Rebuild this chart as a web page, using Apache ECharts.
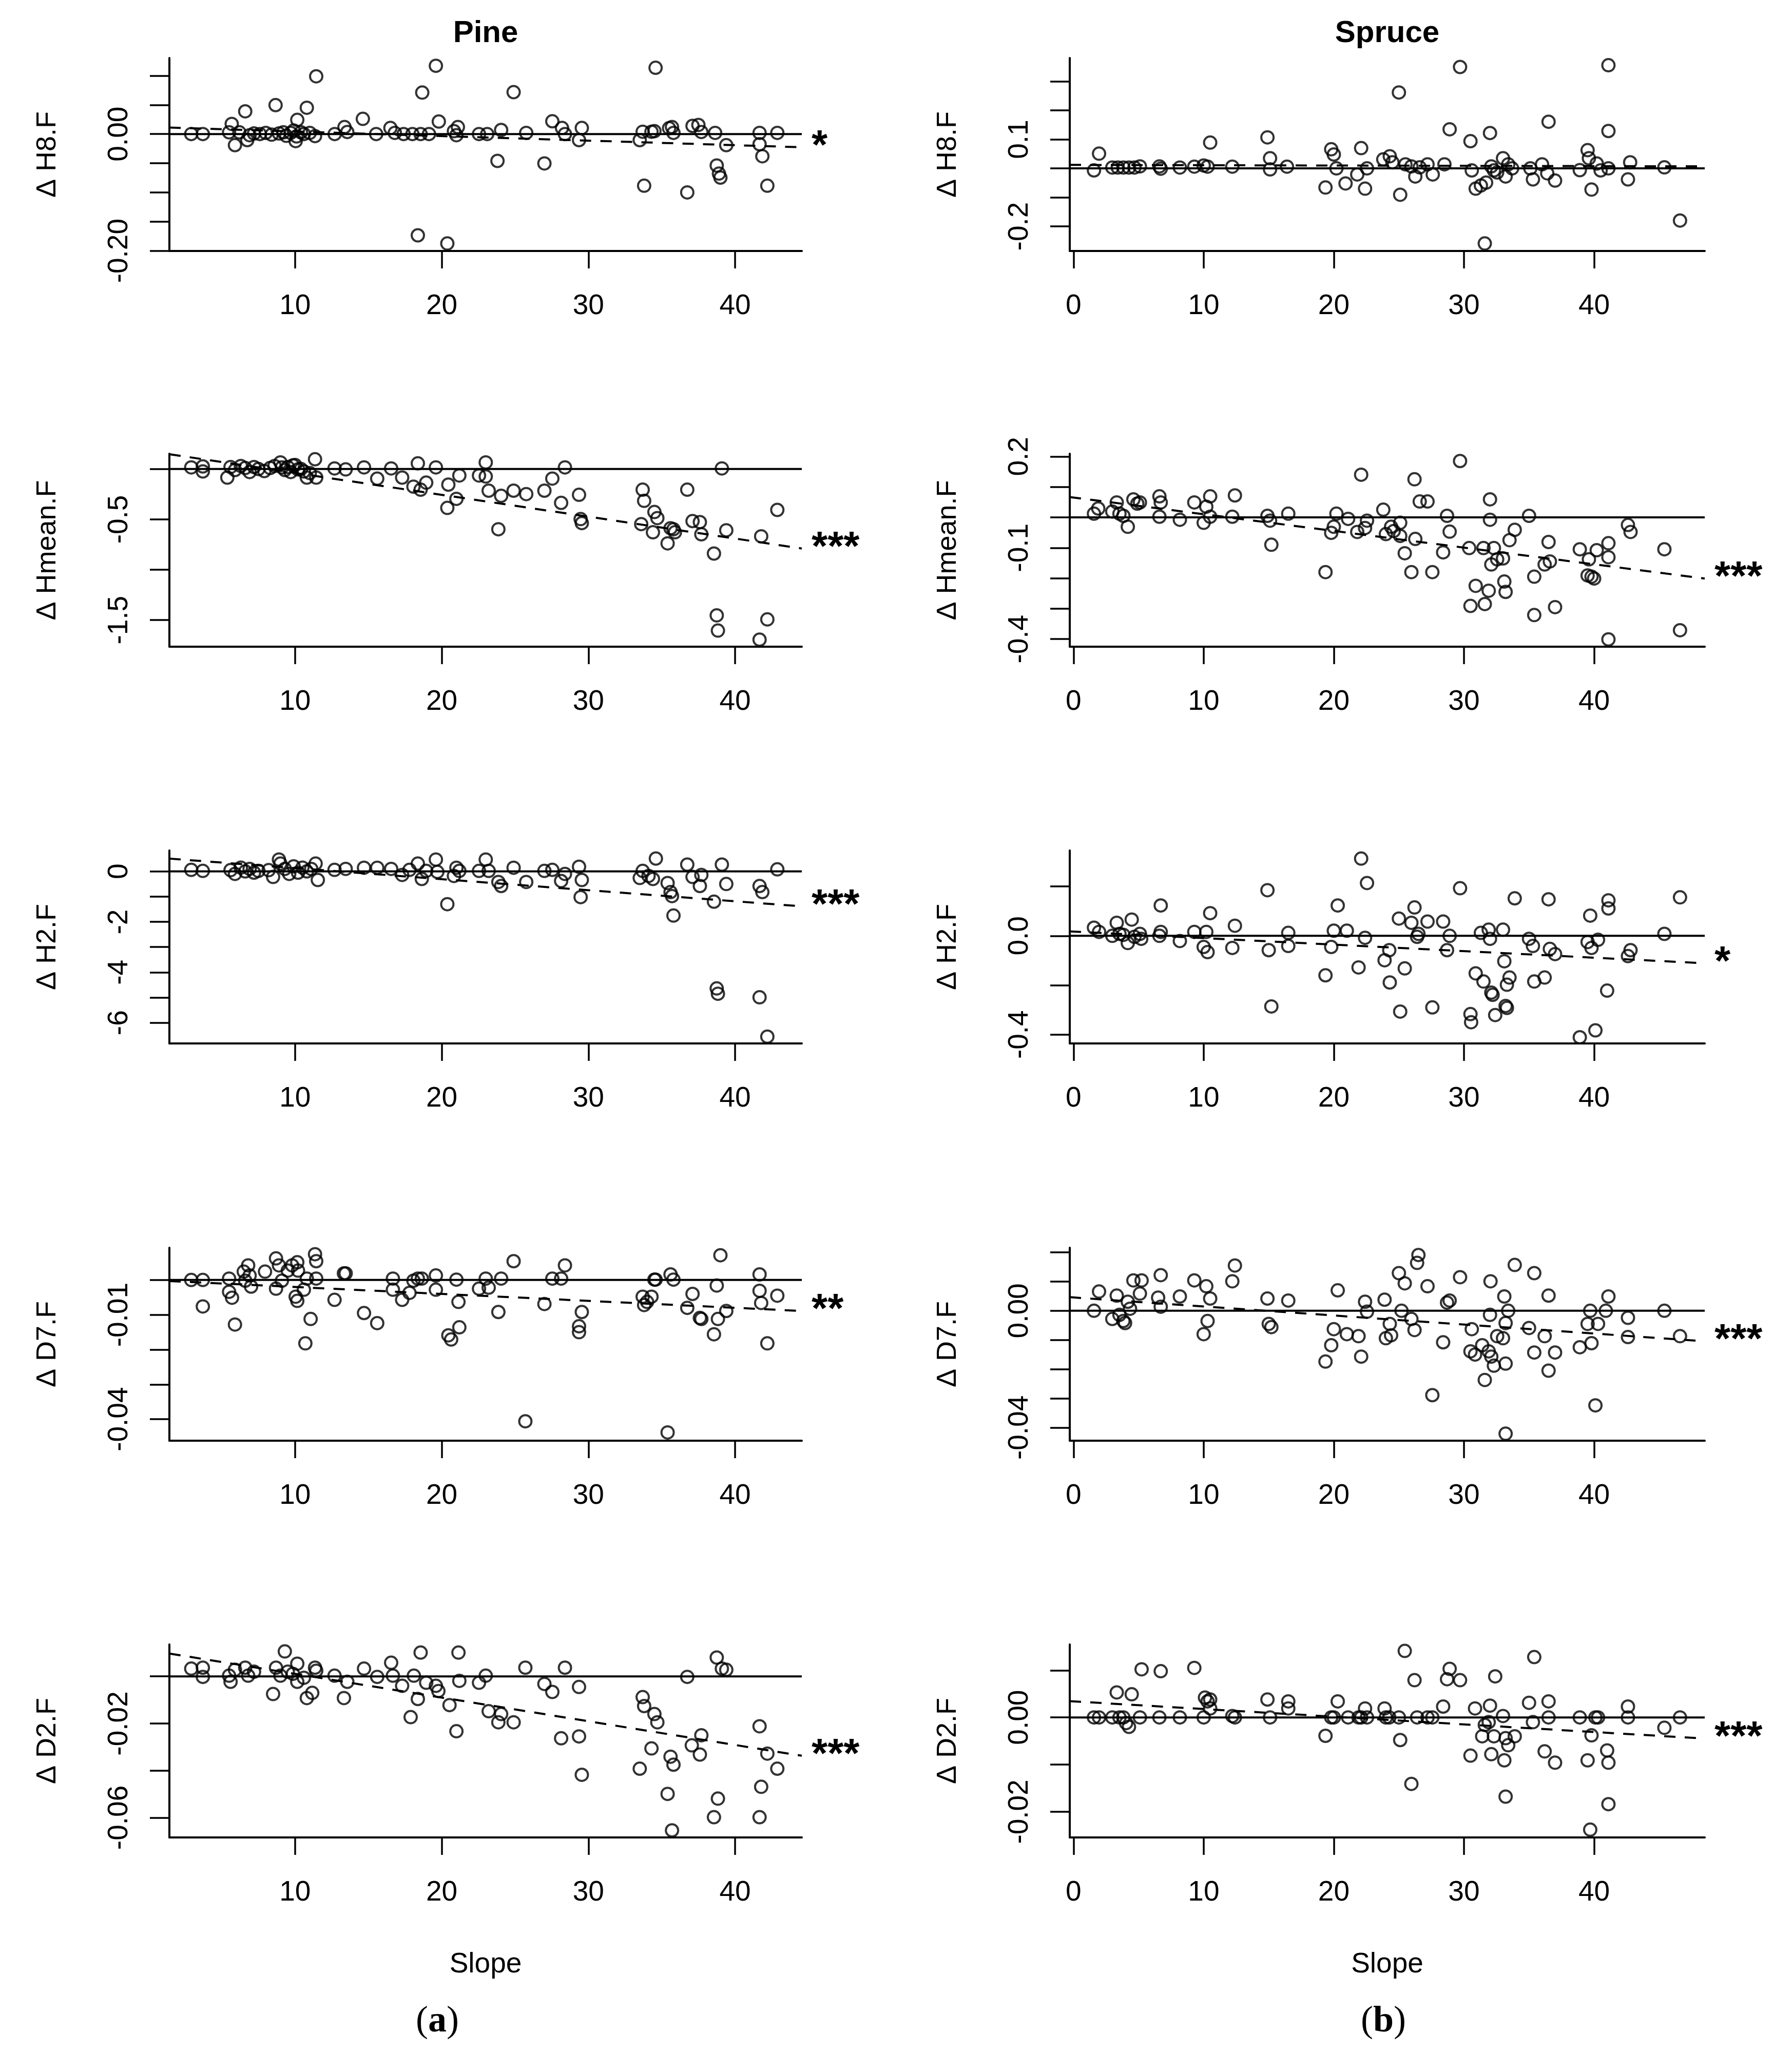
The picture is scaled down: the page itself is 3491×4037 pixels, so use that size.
<!DOCTYPE html>
<html><head><meta charset="utf-8">
<script src="https://cdn.jsdelivr.net/npm/echarts@6/dist/echarts.min.js"></script>
<style>html,body{margin:0;padding:0;background:#fff}#c{width:3491px;height:4037px}</style>
</head><body><div id="c"></div>
<script>
// ---------- DATA ----------
const pineH8 = [[2.92,0],[3.71,0],[5.5,0.003],[5.68,0.0174],[5.9,-0.019],[6.2,0.003],[6.6,0.0389],[6.74,-0.0104],[6.9,-0.002],[7.2,0.001],[7.6,0],[8.0,0.002],[8.4,-0.001],[8.67,0.0496],[8.9,0.001],[9.2,0.003],[9.4,-0.003],[9.7,0.002],[9.9,0.006],[10.04,-0.0121],[10.1,-0.004],[10.15,0.0243],[10.4,0.003],[10.6,0],[10.8,0.0451],[11.0,0.002],[11.36,-0.0035],[11.44,0.0989],[12.7,0],[13.37,0.012],[13.56,0.0035],[14.62,0.026],[15.53,0],[16.5,0.0104],[16.8,0.002],[17.4,0],[18.0,0],[18.37,-0.1735],[18.56,0],[18.67,0.0711],[19.13,0],[19.6,0.117],[19.8,0.0215],[20.38,-0.1874],[20.83,0.005],[21.0,-0.002],[21.1,0.012],[22.54,0],[23.1,0],[23.8,-0.046],[24.05,0.007],[24.9,0.0718],[25.76,0.002],[27.0,-0.0503],[27.54,0.0219],[28.2,0.0104],[28.4,0],[29.36,-0.0104],[29.55,0.0104],[33.5,-0.0104],[33.7,0.004],[33.8,-0.0885],[34.3,0.004],[34.5,0.005],[34.58,0.1135],[35.5,0.01],[35.7,0.012],[35.8,0.002],[36.74,-0.1],[37.1,0.014],[37.5,0.0156],[37.7,0.0035],[38.64,0.002],[38.75,-0.0538],[38.9,-0.0677],[39.0,-0.0746],[39.4,-0.019],[41.67,0.002],[41.67,-0.0174],[41.86,-0.038],[42.2,-0.0885],[42.88,0.002]];
const spruceH8 = [[1.57,-0.007],[1.96,0.051],[2.98,0.003],[3.4,0.003],[3.83,0.003],[4.26,0.003],[4.68,0.003],[5.1,0.007],[6.6,0.007],[6.7,-0.001],[8.17,0.003],[9.28,0.006],[10.0,0.01],[10.3,0.006],[10.5,0.089],[12.2,0.006],[14.9,0.107],[15.1,0.035],[15.1,-0.0035],[16.4,0.006],[19.36,-0.066],[19.8,0.066],[20.0,0.048],[20.2,0],[20.9,-0.052],[21.8,-0.021],[22.1,0.07],[22.4,-0.07],[22.55,0],[23.8,0.031],[24.3,0.042],[24.5,0.021],[25.0,0.262],[25.1,-0.091],[25.5,0.014],[25.96,0.007],[26.26,-0.028],[26.6,0.0035],[27.2,0.014],[27.6,-0.021],[28.5,0.014],[28.9,0.135],[29.7,0.35],[30.5,0.094],[30.6,-0.007],[30.9,-0.07],[31.3,-0.059],[31.6,-0.259],[31.7,-0.049],[32.0,0.122],[32.1,0.007],[32.3,-0.007],[32.55,-0.014],[33.0,0.035],[33.2,-0.028],[33.4,0.014],[33.7,0],[35.1,0],[35.3,-0.038],[36.0,0.014],[36.4,-0.017],[36.5,0.161],[37.0,-0.042],[38.9,-0.006],[39.5,0.063],[39.6,0.035],[39.8,-0.073],[40.2,0.017],[40.5,-0.007],[41.1,0.356],[41.1,0.129],[41.1,0],[42.6,-0.038],[42.77,0.021],[45.4,0.0035],[46.6,-0.18]];
const pineHmean = [[2.92,0.016],[3.71,0.026],[3.71,-0.024],[5.38,-0.085],[5.6,0.02],[5.9,-0.01],[6.3,0.03],[6.6,0.01],[6.9,-0.03],[7.2,0.02],[7.5,0],[7.9,-0.02],[8.3,0.01],[8.6,0.03],[9.0,0.066],[9.1,0.016],[9.3,-0.01],[9.5,0.02],[9.7,-0.03],[9.85,0.036],[10.0,0.04],[10.2,-0.004],[10.4,0],[10.6,-0.024],[10.8,-0.085],[11.0,-0.04],[11.36,0.097],[11.44,-0.085],[12.69,0.006],[13.45,-0.004],[14.7,0.016],[15.6,-0.095],[16.55,0.006],[17.3,-0.085],[18.07,-0.175],[18.37,0.056],[18.56,-0.205],[18.94,-0.135],[19.6,0.016],[20.38,-0.386],[20.45,-0.155],[21.0,-0.296],[21.2,-0.064],[22.54,-0.064],[23.0,0.066],[23.0,-0.074],[23.2,-0.215],[23.86,-0.598],[24.05,-0.266],[24.9,-0.215],[25.76,-0.249],[27.0,-0.215],[27.54,-0.095],[28.14,-0.336],[28.4,0.016],[29.36,-0.256],[29.47,-0.497],[29.55,-0.537],[33.6,-0.547],[33.7,-0.205],[33.8,-0.316],[34.4,-0.628],[34.5,-0.427],[34.7,-0.487],[35.4,-0.738],[35.6,-0.588],[35.8,-0.598],[35.9,-0.628],[36.74,-0.205],[37.1,-0.517],[37.6,-0.527],[37.7,-0.648],[38.56,-0.839],[38.75,-1.453],[38.83,-1.604],[39.1,0.006],[39.4,-0.608],[41.67,-1.694],[41.78,-0.668],[42.2,-1.493],[42.88,-0.406]];
const spruceHmean = [[1.57,0.012],[1.9,0.029],[2.98,0.019],[3.32,0.049],[3.53,0.012],[3.83,0.005],[4.17,-0.031],[4.6,0.059],[4.9,0.045],[5.1,0.049],[6.6,0.069],[6.7,0.049],[6.6,0.002],[8.17,-0.008],[9.28,0.049],[10.0,-0.018],[10.2,0.035],[10.5,0.069],[10.5,0.002],[12.2,0.002],[12.4,0.072],[14.9,0.005],[15.1,-0.011],[15.2,-0.09],[16.5,0.012],[19.36,-0.18],[19.8,-0.051],[20.0,-0.031],[20.2,0.012],[21.1,-0.005],[21.8,-0.048],[22.1,0.14],[22.4,-0.035],[22.55,-0.011],[23.8,0.025],[24.0,-0.055],[24.4,-0.031],[24.6,-0.045],[25.1,-0.018],[25.1,-0.061],[25.45,-0.118],[25.96,-0.18],[26.2,0.125],[26.26,-0.071],[26.6,0.052],[27.2,0.052],[27.57,-0.18],[28.4,-0.115],[28.7,0.005],[28.9,-0.047],[29.7,0.185],[30.4,-0.101],[30.5,-0.291],[30.9,-0.225],[31.5,-0.101],[31.6,-0.285],[31.9,-0.241],[32.0,0.059],[32.0,-0.008],[32.1,-0.155],[32.3,-0.101],[32.55,-0.138],[33.0,-0.135],[33.1,-0.211],[33.2,-0.245],[33.5,-0.075],[33.9,-0.041],[35.0,0.005],[35.4,-0.321],[35.4,-0.195],[36.2,-0.155],[36.5,-0.081],[36.6,-0.145],[37.0,-0.295],[38.9,-0.105],[39.5,-0.191],[39.6,-0.138],[39.8,-0.195],[40.0,-0.201],[40.2,-0.108],[41.1,-0.085],[41.1,-0.131],[41.1,-0.401],[42.6,-0.025],[42.8,-0.048],[45.4,-0.105],[46.6,-0.371]];
const pineH2 = [[2.92,0.06],[3.71,0.02],[5.6,0.05],[5.9,-0.1],[6.3,0.15],[6.6,0],[6.9,0.1],[7.2,-0.05],[7.5,0.02],[8.2,0.05],[8.5,-0.22],[8.9,0.47],[9.0,0.31],[9.3,0.1],[9.6,-0.1],[9.9,0.2],[10.2,-0.05],[10.5,0.15],[10.8,0],[11.1,0.1],[11.4,0.31],[11.55,-0.34],[12.69,0.06],[13.45,0.1],[14.7,0.145],[15.6,0.145],[16.55,0.1],[17.3,-0.14],[17.8,0.06],[18.37,0.31],[18.64,-0.3],[18.94,0.02],[19.6,0.47],[19.7,-0.02],[20.38,-1.3],[20.83,-0.18],[21.0,0.145],[21.2,0.02],[22.54,0.02],[23.0,0.47],[23.2,0.02],[23.86,-0.42],[24.05,-0.58],[24.9,0.145],[25.76,-0.42],[27.0,0.02],[27.54,0.06],[28.14,-0.38],[28.4,-0.1],[29.36,0.185],[29.47,-1.02],[29.55,-0.34],[33.5,-0.26],[33.7,0.02],[34.1,-0.18],[34.4,-0.3],[34.6,0.51],[35.4,-0.46],[35.6,-0.82],[35.7,-0.98],[35.8,-1.75],[36.74,0.27],[37.1,-0.22],[37.6,-0.58],[37.7,-0.14],[38.56,-1.2],[38.75,-4.64],[38.83,-4.85],[39.1,0.27],[39.4,-0.5],[41.67,-0.58],[41.86,-0.82],[41.67,-4.99],[42.2,-6.55],[42.88,0.08]];
const spruceH2 = [[1.57,0.033],[1.96,0.016],[2.98,0],[3.32,0.053],[3.53,0.008],[3.83,0.004],[4.17,-0.029],[4.47,0.066],[4.68,-0.004],[5.1,0.008],[5.2,-0.012],[6.6,0],[6.7,0.123],[6.7,0.016],[8.17,-0.021],[9.28,0.016],[10.0,-0.045],[10.2,0.016],[10.3,-0.066],[10.5,0.092],[12.2,-0.049],[12.4,0.041],[14.9,0.185],[15.0,-0.058],[15.2,-0.286],[16.5,0.012],[16.5,-0.041],[19.36,-0.16],[19.8,-0.045],[20.0,0.021],[20.3,0.123],[21.0,0.021],[21.9,-0.128],[22.1,0.313],[22.4,-0.008],[22.55,0.214],[23.9,-0.099],[24.26,-0.058],[24.3,-0.189],[25.0,0.07],[25.1,-0.307],[25.45,-0.132],[25.96,0.053],[26.2,0.115],[26.4,-0.004],[26.5,0.008],[27.2,0.058],[27.57,-0.29],[28.4,0.058],[28.7,-0.058],[28.9,0],[29.7,0.193],[30.5,-0.317],[30.55,-0.35],[30.9,-0.152],[31.3,0.012],[31.5,-0.185],[31.9,0.025],[32.0,-0.012],[32.1,-0.23],[32.2,-0.239],[32.4,-0.321],[33.0,0.025],[33.1,-0.103],[33.2,-0.284],[33.3,-0.292],[33.3,-0.198],[33.5,-0.169],[33.9,0.152],[35.0,-0.012],[35.3,-0.041],[35.4,-0.185],[36.2,-0.169],[36.5,0.148],[36.6,-0.053],[37.0,-0.074],[38.9,-0.411],[39.5,-0.025],[39.7,0.082],[39.8,-0.049],[40.1,-0.383],[40.3,-0.016],[41.0,-0.222],[41.1,0.111],[41.1,0.144],[42.6,-0.082],[42.8,-0.058],[45.4,0.008],[46.6,0.156]];
const pineD7 = [[2.92,0],[3.71,0],[3.71,-0.0076],[5.5,0.0004],[5.5,-0.0034],[5.7,-0.0051],[5.9,-0.0128],[6.5,0.0024],[6.6,-0.0002],[6.8,0.0042],[6.9,0.0013],[7.0,-0.0019],[7.95,0.0024],[8.7,0.0062],[8.7,-0.0025],[8.9,0.0042],[9.1,-0.0002],[9.5,0.0027],[9.8,0.0042],[10.04,-0.0048],[10.15,0.0051],[10.15,-0.006],[10.2,0.0027],[10.6,-0.0028],[10.7,-0.0182],[10.8,0.0004],[11.06,-0.0112],[11.36,0.0074],[11.44,0.0054],[11.44,0.0004],[12.69,-0.0057],[13.33,0.0019],[13.45,0.0019],[14.7,-0.0095],[15.6,-0.0124],[16.67,0.0004],[16.67,-0.0028],[17.3,-0.0057],[17.8,-0.0037],[18.07,-0.0002],[18.37,0.0004],[18.64,0.0004],[19.6,0.0013],[19.6,-0.0028],[20.45,-0.0159],[20.64,-0.0171],[21.0,0.0001],[21.14,-0.0063],[21.2,-0.0136],[22.54,-0.0025],[23.0,0.0004],[23.2,-0.0022],[23.86,-0.0092],[24.05,0.0004],[24.9,0.0054],[25.7,-0.0406],[27.0,-0.0069],[27.54,0.0004],[28.14,0.0004],[28.4,0.0042],[29.36,-0.0133],[29.36,-0.015],[29.55,-0.0092],[33.7,-0.0048],[33.8,-0.0072],[34.0,-0.0063],[34.3,-0.0048],[34.5,0.0001],[34.58,0.0001],[35.4,-0.0438],[35.6,0.0016],[35.8,0.0001],[36.74,-0.008],[37.1,-0.004],[37.6,-0.0109],[37.7,-0.0112],[38.56,-0.0156],[38.75,-0.0016],[38.83,-0.0112],[39.0,0.0071],[39.4,-0.0089],[41.67,0.0016],[41.67,-0.0031],[41.78,-0.0066],[42.2,-0.0182],[42.88,-0.0045]];
const spruceD7 = [[1.57,0],[1.96,0.0066],[2.98,-0.0028],[3.32,0.0052],[3.53,-0.0014],[3.83,-0.0035],[3.96,-0.0042],[4.17,0.0031],[4.34,0.0007],[4.6,0.0104],[5.1,0.0059],[5.23,0.0104],[6.5,0.0045],[6.7,0.0014],[6.7,0.0122],[8.17,0.0049],[9.28,0.0104],[10.0,-0.008],[10.2,0.0084],[10.3,-0.0035],[10.5,0.0042],[12.2,0.0101],[12.4,0.0155],[14.9,0.0042],[15.0,-0.0045],[15.2,-0.0056],[16.5,0.0035],[19.36,-0.0174],[19.8,-0.0118],[20.0,-0.0063],[20.3,0.007],[21.0,-0.008],[21.9,-0.0087],[22.1,-0.0157],[22.4,0.0031],[22.55,-0.0003],[23.9,0.0038],[24.0,-0.0094],[24.3,-0.0045],[24.4,-0.0084],[25.0,0.0129],[25.2,0],[25.45,0.0094],[25.96,-0.0028],[26.2,-0.0066],[26.4,0.0164],[26.5,0.0191],[27.2,0.0084],[27.57,-0.0289],[28.4,-0.0108],[28.7,0.0028],[28.9,0.0035],[29.7,0.0115],[30.5,-0.0139],[30.6,-0.0063],[30.85,-0.015],[31.4,-0.0118],[31.6,-0.0237],[31.9,-0.0139],[32.0,-0.0014],[32.04,0.0101],[32.1,-0.0157],[32.3,-0.0188],[32.55,-0.0087],[33.0,-0.0094],[33.1,0.0049],[33.2,-0.0042],[33.2,-0.0181],[33.2,-0.0421],[33.4,0],[33.9,0.0157],[35.0,-0.0059],[35.4,0.0129],[35.4,-0.0143],[36.2,-0.0087],[36.5,0.0052],[36.5,-0.0205],[37.0,-0.0143],[38.9,-0.0125],[39.5,-0.0045],[39.7,0],[39.8,-0.0111],[40.1,-0.0324],[40.3,-0.0045],[40.9,0],[41.1,0.0049],[42.6,-0.0024],[42.6,-0.009],[45.4,0],[46.6,-0.0087]];
const pineD2 = [[2.92,0.0033],[3.71,0.0037],[3.71,-0.0002],[5.5,0.0003],[5.6,-0.0023],[5.9,0.0028],[6.6,0.0037],[6.8,0.0003],[7.2,0.002],[8.5,-0.0075],[8.7,0.0037],[9.0,0.0003],[9.3,0.0106],[9.5,0.002],[9.85,0.0011],[10.15,0.0054],[10.15,-0.0023],[10.6,-0.0006],[10.8,-0.0092],[11.17,-0.007],[11.36,0.0037],[11.44,0.0024],[12.69,0.0003],[13.33,-0.0092],[13.56,-0.0023],[14.7,0.0033],[15.6,-0.0002],[16.55,0.0058],[16.67,0.0003],[17.3,-0.004],[17.88,-0.0173],[18.1,0.0003],[18.37,-0.0096],[18.56,0.0101],[18.94,-0.0027],[19.6,-0.004],[19.77,-0.0062],[20.53,-0.0122],[21.0,-0.0233],[21.14,0.0101],[21.2,-0.0019],[22.54,-0.0027],[23.0,0.0003],[23.2,-0.0148],[23.86,-0.0195],[24.05,-0.016],[24.9,-0.0195],[25.7,0.0037],[27.0,-0.0032],[27.54,-0.0066],[28.14,-0.0263],[28.4,0.0037],[29.36,-0.0045],[29.36,-0.0255],[29.55,-0.0418],[33.5,-0.0392],[33.7,-0.0088],[33.8,-0.0126],[34.3,-0.0306],[34.5,-0.016],[34.7,-0.0195],[35.4,-0.0499],[35.6,-0.0341],[35.7,-0.0654],[35.8,-0.0375],[36.74,-0.0002],[37.05,-0.0293],[37.6,-0.0332],[37.7,-0.025],[38.56,-0.0598],[38.75,0.008],[38.83,-0.0519],[39.1,0.0033],[39.4,0.0028],[41.67,-0.0212],[41.67,-0.0598],[41.78,-0.0469],[42.2,-0.0328],[42.88,-0.0392]];
const spruceD2 = [[1.57,0],[1.96,0],[2.98,0],[3.32,0.0053],[3.53,0],[3.83,0],[4.04,-0.0012],[4.26,-0.002],[4.47,0.0049],[5.1,0],[5.23,0.0102],[6.6,0],[6.7,0.0098],[8.17,0],[9.28,0.0105],[10.0,0],[10.1,0.0042],[10.3,0.0034],[10.5,0.0038],[10.5,0.0019],[12.2,0.0003],[12.4,0],[14.9,0.0038],[15.1,0],[16.5,0.0034],[16.5,0.0019],[19.36,-0.0039],[19.8,0],[20.0,0],[20.3,0.0034],[21.1,0],[21.9,0],[22.1,0],[22.4,0.0019],[22.55,0],[23.9,0.0019],[24.0,0],[24.26,0],[25.0,0],[25.1,-0.0048],[25.45,0.0141],[25.96,-0.0141],[26.2,0.0079],[26.4,0],[27.2,0],[27.57,0],[28.4,0.0023],[28.7,0.0081],[28.9,0.0103],[29.7,0.0079],[30.5,-0.0081],[30.85,0.0019],[31.4,-0.004],[31.6,-0.0016],[31.9,-0.001],[32.0,0.0025],[32.1,-0.0078],[32.3,-0.004],[32.4,0.0087],[33.0,0.0003],[33.1,-0.0091],[33.2,-0.0168],[33.2,-0.0044],[33.4,-0.0059],[33.9,-0.004],[35.0,0.0031],[35.3,-0.001],[35.4,0.0128],[36.2,-0.0072],[36.5,0.0034],[36.5,0],[37.0,-0.0096],[38.9,0],[39.5,-0.0091],[39.7,-0.0238],[39.8,-0.0038],[40.1,0],[40.3,0],[41.0,-0.007],[41.1,-0.0096],[41.1,-0.0184],[42.6,0.0023],[42.6,0],[45.4,-0.0022],[46.6,0]];

// fitted regression line values at the left and right plot edges
const fitPineH8 = [0.0111, -0.0226], fitSpruceH8 = [0.012, 0.007];
const fitPineHmean = [0.147, -0.789], fitSpruceHmean = [0.0667, -0.201];
const fitPineH2 = [0.507, -1.384], fitSpruceH2 = [0.0181, -0.111];
const fitPineD7 = [-0.0003, -0.0089], fitSpruceD7 = [0.00466, -0.01043];
const fitPineD2 = [0.0097, -0.0337], fitSpruceD2 = [0.00345, -0.00448];

// axis ranges
const xRangePine = [1.43, 44.55], xRangeSpruce = [-0.29, 48.5];
const yRangePineH8 = [-0.2003, 0.1303], yRangeSpruceH8 = [-0.285, 0.381];
const yRangePineHmean = [-1.764, 0.152], yRangeSpruceHmean = [-0.425, 0.209];
const yRangePineH2 = [-6.82, 0.83], yRangeSpruceH2 = [-0.436, 0.346];
const yRangePineD7 = [-0.04617, 0.00927], yRangeSpruceD7 = [-0.0445, 0.0216];
const yRangePineD2 = [-0.0684, 0.01356], yRangeSpruceD2 = [-0.02545, 0.01547];

// ticks and tick labels
const xTicksPine = ['10','20','30','40'], xTicksSpruce = ['0','10','20','30','40'];
const yTicksPineH8 = [-0.2,-0.15,-0.1,-0.05,0,0.05,0.1], yLabelsPineH8 = ['-0.20','0.00'];
const yTicksSpruceH8 = [-0.2,-0.1,0,0.1,0.2,0.3], yLabelsSpruceH8 = ['-0.2','0.1'];
const yTicksPineHmean = [-1.5,-1,-0.5,0], yLabelsPineHmean = ['-1.5','-0.5'];
const yTicksSpruceHmean = [-0.4,-0.3,-0.2,-0.1,0,0.1,0.2], yLabelsSpruceHmean = ['-0.4','-0.1','0.2'];
const yTicksPineH2 = [-6,-5,-4,-3,-2,-1,0], yLabelsPineH2 = ['-6','-4','-2','0'];
const yTicksSpruceH2 = [-0.4,-0.2,0,0.2], yLabelsSpruceH2 = ['-0.4','0.0'];
const yTicksPineD7 = [-0.04,-0.03,-0.02,-0.01,0], yLabelsPineD7 = ['-0.04','-0.01'];
const yTicksSpruceD7 = [-0.04,-0.03,-0.02,-0.01,0,0.01,0.02], yLabelsSpruceD7 = ['-0.04','0.00'];
const yTicksPineD2 = [-0.06,-0.04,-0.02,0], yLabelsPineD2 = ['-0.06','-0.02'];
const yTicksSpruceD2 = [-0.02,-0.01,0,0.01], yLabelsSpruceD2 = ['-0.02','0.00'];

const yNames = ['Δ H8.F','Δ Hmean.F','Δ H2.F','Δ D7.F','Δ D2.F'];
const starsPine = ['*','***','***','**','***'];
const starsSpruce = ['','***','*','***','***'];
const titles = ['Pine','Spruce'];
const xName = 'Slope';
const panelTags = ['a','b'];

// ---------- LAYOUT ----------
const FONT = '"Liberation Sans", Arial, Helvetica, sans-serif';
const colLeft = [330, 2084], colWidth = [1232, 1237];
const rowTop = [113, 884, 1657, 2431, 3204], rowH = 376;

const pineSets = [
  [pineH8, fitPineH8, yRangePineH8, yTicksPineH8, yLabelsPineH8],
  [pineHmean, fitPineHmean, yRangePineHmean, yTicksPineHmean, yLabelsPineHmean],
  [pineH2, fitPineH2, yRangePineH2, yTicksPineH2, yLabelsPineH2],
  [pineD7, fitPineD7, yRangePineD7, yTicksPineD7, yLabelsPineD7],
  [pineD2, fitPineD2, yRangePineD2, yTicksPineD2, yLabelsPineD2]
];
const spruceSets = [
  [spruceH8, fitSpruceH8, yRangeSpruceH8, yTicksSpruceH8, yLabelsSpruceH8],
  [spruceHmean, fitSpruceHmean, yRangeSpruceHmean, yTicksSpruceHmean, yLabelsSpruceHmean],
  [spruceH2, fitSpruceH2, yRangeSpruceH2, yTicksSpruceH2, yLabelsSpruceH2],
  [spruceD7, fitSpruceD7, yRangeSpruceD7, yTicksSpruceD7, yLabelsSpruceD7],
  [spruceD2, fitSpruceD2, yRangeSpruceD2, yTicksSpruceD2, yLabelsSpruceD2]
];

const grid = [], xAxis = [], yAxis = [], series = [];
let idx = 0;
function addPanel(col, row, set, stars) {
  const [data, fit, yr, yTicks, yLabels] = set;
  const xr = col === 0 ? xRangePine : xRangeSpruce;
  const xt = col === 0 ? xTicksPine : xTicksSpruce;
  grid.push({left: colLeft[col], top: rowTop[row], width: colWidth[col], height: rowH, containLabel: false});
  xAxis.push({
    gridIndex: idx, type: 'value', min: xr[0], max: xr[1],
    axisLine: {show: true, onZero: false, lineStyle: {color: '#000', width: 4}},
    axisTick: {show: true, length: 34, customValues: xt.map(Number), lineStyle: {color: '#000', width: 3.5}},
    axisLabel: {show: true, customValues: xt.map(Number), formatter: v => String(Math.round(v)),
      fontSize: 55, fontFamily: FONT, color: '#000', margin: 80},
    splitLine: {show: false}
  });
  yAxis.push({
    gridIndex: idx, type: 'value', min: yr[0], max: yr[1],
    name: yNames[row], nameLocation: 'middle', nameRotate: 90, nameGap: 210,
    nameTextStyle: {fontSize: 54, fontFamily: FONT, color: '#000'},
    axisLine: {show: true, onZero: false, lineStyle: {color: '#000', width: 4}},
    axisTick: {show: true, length: 38, customValues: yTicks, lineStyle: {color: '#000', width: 3.5}},
    axisLabel: {show: true, rotate: 90, customValues: yLabels.map(Number),
      formatter: v => { const s = yLabels.find(l => Math.abs(Number(l) - v) < 1e-9); return s === undefined ? '' : s; },
      fontSize: 55, fontFamily: FONT, color: '#000', margin: 70},
    splitLine: {show: false}
  });
  series.push({
    type: 'line', xAxisIndex: idx, yAxisIndex: idx, data: [[xr[0], 0], [xr[1], 0]],
    showSymbol: false, symbol: 'none', lineStyle: {color: '#000', width: 4}, silent: true, z: 2
  });
  series.push({
    type: 'scatter', xAxisIndex: idx, yAxisIndex: idx, data: data, symbol: 'circle', symbolSize: 24,
    itemStyle: {color: 'rgba(0,0,0,0)', borderColor: '#000', borderWidth: 4}, silent: true, z: 3
  });
  series.push({
    type: 'line', xAxisIndex: idx, yAxisIndex: idx, data: [[xr[0], fit[0]], [xr[1], fit[1]]],
    showSymbol: false, symbol: 'none', silent: true, z: 4,
    lineStyle: {color: '#000', width: 4, type: [22, 18]},
    endLabel: {show: stars !== '', formatter: () => stars, distance: 19, fontSize: 80, fontWeight: 'bold',
      fontFamily: FONT, color: '#000'}
  });
  idx++;
}
for (let r = 0; r < 5; r++) {
  addPanel(0, r, pineSets[r], starsPine[r]);
  addPanel(1, r, spruceSets[r], starsSpruce[r]);
}

const colCenter = [colLeft[0] + colWidth[0] / 2, colLeft[1] + colWidth[1] / 2];
const graphic = [];
for (let c = 0; c < 2; c++) {
  graphic.push({type: 'text', x: colCenter[c], y: 65,
    style: {text: titles[c], fontSize: 60, fontWeight: 'bold', fontFamily: FONT, fill: '#000',
      align: 'center', verticalAlign: 'middle', textAlign: 'center', textVerticalAlign: 'middle'}});
  graphic.push({type: 'text', x: colCenter[c], y: 3828,
    style: {text: xName, fontSize: 55, fontFamily: FONT, fill: '#000',
      align: 'center', verticalAlign: 'middle', textAlign: 'center', textVerticalAlign: 'middle'}});
  graphic.push({type: 'text', x: c === 0 ? 852 : 2695, y: 3939,
    style: {text: '{p|(}{b|' + panelTags[c] + '}{p|)}', align: 'center', verticalAlign: 'middle',
      textAlign: 'center', textVerticalAlign: 'middle', fill: '#000',
      rich: {p: {fontSize: 72, fontFamily: '"Liberation Serif", "Times New Roman", serif', fill: '#000'},
             b: {fontSize: 72, fontWeight: 'bold', fontFamily: '"Liberation Serif", "Times New Roman", serif', fill: '#000'}}}});
}

const chart = echarts.init(document.getElementById('c'), null, {renderer: 'canvas', width: 3491, height: 4037});
chart.setOption({
  backgroundColor: '#fff',
  animation: false,
  grid, xAxis, yAxis, series, graphic
});
</script></body></html>
